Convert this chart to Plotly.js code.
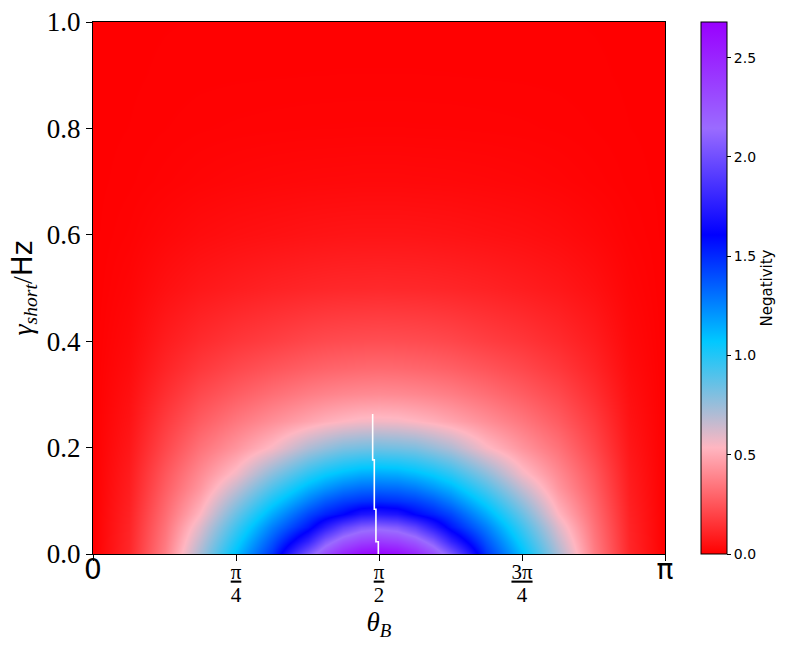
<!DOCTYPE html>
<html><head><meta charset="utf-8">
<script src="https://cdn.plot.ly/plotly-3.0.1.min.js"></script>
<style>html,body{margin:0;padding:0;background:#fff}</style>
</head><body><div id="chart" style="width:794px;height:645px"></div>
<script>
// theta_B sample positions (rad)
const thetaB = [0, 0.19635, 0.39270, 0.58905, 0.78540, 0.98175, 1.17810, 1.27627, 1.37445, 1.47262, 1.57080,
  1.66897, 1.76715, 1.86532, 1.96350, 2.15985, 2.35619, 2.55254, 2.74889, 2.94524, 3.14159];
// gamma_short sample positions (Hz)
const gammaShort = [0, 0.025, 0.05, 0.075, 0.1, 0.125, 0.15, 0.2, 0.25, 0.3, 0.35, 0.4, 0.5, 0.6, 0.7, 0.8, 0.9, 1.0];
// negativity, one row per gamma value
const negativity = [
  [0, .115, .369, .72, 1.10, 1.47, 2.04, 2.30, 2.50, 2.63, 2.68, 2.63, 2.50, 2.30, 2.04, 1.47, 1.10, .72, .369, .115, 0],
  [0, .111, .353, .666, 1.025, 1.38, 1.78, 2.05, 2.24, 2.35, 2.39, 2.35, 2.24, 2.05, 1.78, 1.38, 1.025, .666, .353, .111, 0],
  [0, .106, .335, .605, .94, 1.27, 1.555, 1.75, 1.94, 2.06, 2.10, 2.06, 1.94, 1.75, 1.555, 1.27, .94, .605, .335, .106, 0],
  [0, .100, .315, .537, .85, 1.15, 1.42, 1.52, 1.60, 1.71, 1.74, 1.71, 1.60, 1.52, 1.42, 1.15, .85, .537, .315, .100, 0],
  [0, .093, .295, .488, .756, 1.03, 1.27, 1.37, 1.44, 1.48, 1.50, 1.48, 1.44, 1.37, 1.27, 1.03, .756, .488, .295, .093, 0],
  [0, .087, .274, .441, .662, .91, 1.13, 1.21, 1.28, 1.32, 1.33, 1.32, 1.28, 1.21, 1.13, .91, .662, .441, .274, .087, 0],
  [0, .081, .254, .406, .563, .784, .98, 1.056, 1.11, 1.15, 1.16, 1.15, 1.11, 1.056, .98, .784, .563, .406, .254, .081, 0],
  [0, .068, .210, .336, .437, .551, .705, .76, .81, .83, .84, .83, .81, .76, .705, .551, .437, .336, .210, .068, 0],
  [0, .056, .173, .271, .35, .419, .483, .513, .536, .555, .56, .555, .536, .513, .483, .419, .35, .271, .173, .056, 0],
  [0, .045, .136, .215, .273, .325, .369, .385, .398, .406, .41, .406, .398, .385, .369, .325, .273, .215, .136, .045, 0],
  [0, .035, .106, .165, .211, .248, .28, .292, .30, .307, .31, .307, .30, .292, .28, .248, .211, .165, .106, .035, 0],
  [0, .027, .083, .125, .158, .183, .209, .218, .224, .228, .23, .228, .224, .218, .209, .183, .158, .125, .083, .027, 0],
  [0, .016, .047, .070, .086, .10, .110, .114, .117, .118, .12, .118, .117, .114, .110, .10, .086, .070, .047, .016, 0],
  [0, .008, .023, .036, .045, .051, .057, .059, .061, .062, .062, .062, .061, .059, .057, .051, .045, .036, .023, .008, 0],
  [0, .0034, .0093, .0153, .020, .0233, .0257, .0265, .027, .028, .028, .028, .027, .0265, .0257, .0233, .020, .0153, .0093, .0034, 0],
  [0, .0015, .0042, .0066, .0081, .0091, .0099, .0101, .0103, .0105, .0105, .0105, .0103, .0101, .0099, .0091, .0081, .0066, .0042, .0015, 0],
  [0, .0007, .0022, .0032, .0037, .004, .0043, .0044, .0045, .0045, .0045, .0045, .0045, .0044, .0043, .004, .0037, .0032, .0022, .0007, 0],
  [0, .0005, .0012, .0017, .0018, .002, .002, .002, .002, .002, .002, .002, .002, .002, .002, .002, .0018, .0017, .0012, .0005, 0]
];
// ridge (maximum) line, white
const ridgeTheta = [1.536, 1.536, 1.545, 1.545, 1.554, 1.554, 1.567, 1.567];
const ridgeGamma = [0.263, 0.177, 0.177, 0.084, 0.084, 0.023, 0.023, 0.0];
// tick labels
const xTickVals = [0, Math.PI/4, Math.PI/2, 3*Math.PI/4, Math.PI];
const fr = (n, d) => '<span style="font-size:21px"><u>' + n + '</u></span><br><span style="font-size:21px">' + d + '</span>';
const xTickText = [
  '<span style="font-family:DejaVu Sans;font-size:28px">0</span>',
  fr('π', '4'), fr('π', '2'), fr('3π', '4'),
  '<span style="font-family:DejaVu Sans;font-size:28px">π</span>'];
const yTickVals = [0, 0.2, 0.4, 0.6, 0.8, 1.0];
const yTickText = ['0.0', '0.2', '0.4', '0.6', '0.8', '1.0'];
const cbTickVals = [0, 0.5, 1.0, 1.5, 2.0, 2.5];
const cbTickText = ['0.0', '0.5', '1.0', '1.5', '2.0', '2.5'];

const heat = {
  type: 'heatmap', x: thetaB, y: gammaShort, z: negativity,
  zmin: 0, zmax: 2.68, zsmooth: 'best',
  colorscale: [[0, '#ff0000'], [0.2, '#ffb6c1'], [0.4, '#00c8ff'], [0.6, '#0000ff'], [0.8, '#9a6bff'], [1, '#9900ff']],
  colorbar: {
    x: 1.063, xanchor: 'left', xpad: 0, ypad: 0, y: 0.5, yanchor: 'middle',
    len: 1, lenmode: 'fraction', thickness: 26, thicknessmode: 'pixels',
    outlinewidth: 1, outlinecolor: '#000',
    ticks: 'outside', ticklen: 4, tickwidth: 1, tickcolor: '#000',
    tickvals: cbTickVals, ticktext: cbTickText,
    tickfont: {family: 'DejaVu Sans', size: 14, color: '#000'},
    title: {text: 'Negativity', side: 'right', font: {family: 'DejaVu Sans', size: 15, color: '#000'}}
  },
  hoverinfo: 'skip'
};
const ridge = {
  type: 'scatter', mode: 'lines', x: ridgeTheta, y: ridgeGamma,
  line: {color: '#ffffff', width: 1.6}, showlegend: false, hoverinfo: 'skip'
};
const layout = {
  width: 794, height: 645,
  margin: {l: 93, r: 129, t: 22, b: 91},
  paper_bgcolor: '#fff', plot_bgcolor: '#fff',
  showlegend: false,
  xaxis: {
    range: [0, Math.PI], showgrid: false, zeroline: false,
    showline: true, mirror: true, linecolor: '#000', linewidth: 1,
    ticks: 'outside', ticklen: 6, tickwidth: 1, tickcolor: '#000',
    tickvals: xTickVals, ticktext: xTickText, ticklabelstandoff: -4,
    tickfont: {family: 'Liberation Serif', size: 18, color: '#000'},
    title: {text: '<i>θ</i><sub><i>B</i></sub>', font: {family: 'Liberation Serif', size: 27, color: '#000'}, standoff: 0}
  },
  yaxis: {
    range: [0, 1], showgrid: false, zeroline: false,
    showline: true, mirror: true, linecolor: '#000', linewidth: 1,
    ticks: 'outside', ticklen: 6, tickwidth: 1, tickcolor: '#000',
    tickvals: yTickVals, ticktext: yTickText,
    tickfont: {family: 'Liberation Serif', size: 27, color: '#000'},
    title: {text: '<i>γ</i><sub><i>short</i></sub>/<span style="font-family:DejaVu Sans">Hz</span>', font: {family: 'Liberation Serif', size: 28, color: '#000'}, standoff: 6}
  }
};
Plotly.newPlot('chart', [heat, ridge], layout, {staticPlot: true});
</script>
</body></html>
